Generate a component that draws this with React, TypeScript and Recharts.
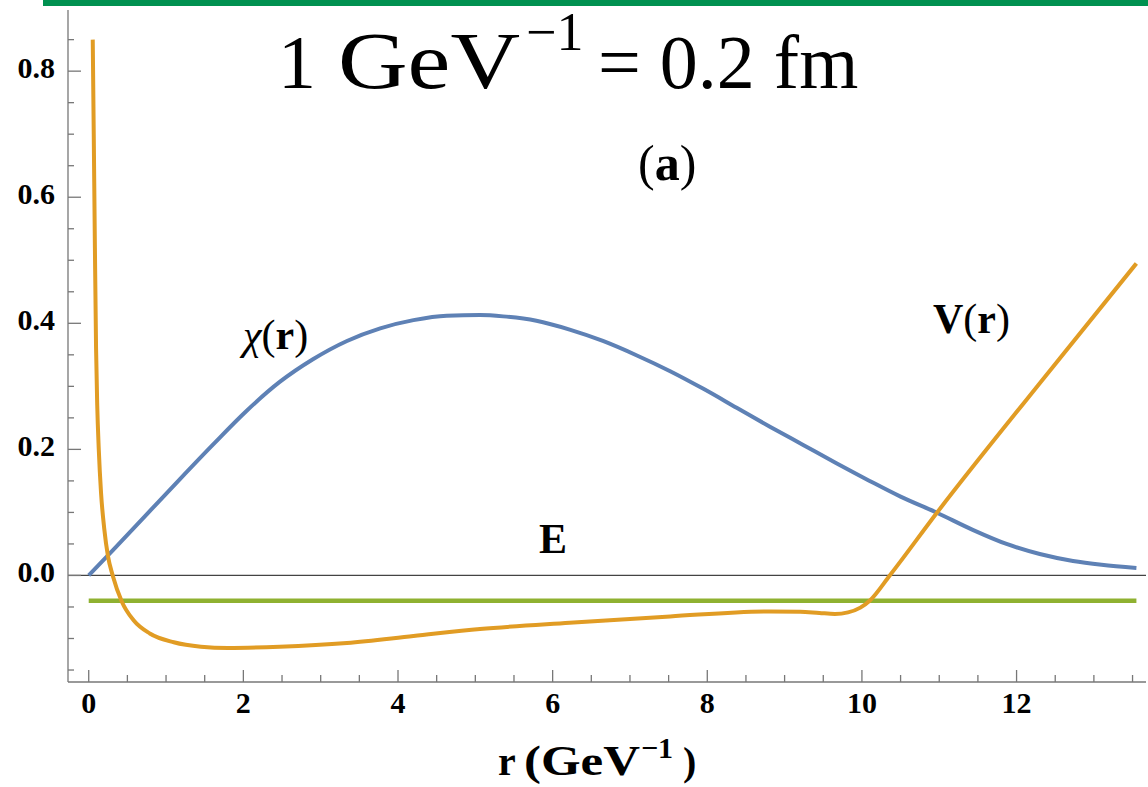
import { LineChart, Line, XAxis, YAxis, ReferenceLine } from "recharts";

// wave function chi(r)
const chiR = [0, 0.32, 0.75, 1.18, 1.61, 2.04, 2.47, 2.9, 3.34, 3.77, 4.2, 4.63, 5.06, 5.36, 5.79, 6.22, 6.65, 7.09, 7.52, 7.95, 8.38, 8.81, 9.24, 9.67, 10.1, 10.5, 10.97, 11.44, 11.87, 12.3, 12.73, 13.1, 13.55];
const chiValues = [0, 0.041, 0.097, 0.153, 0.208, 0.261, 0.307, 0.343, 0.372, 0.392, 0.405, 0.412, 0.413, 0.411, 0.404, 0.39, 0.372, 0.349, 0.324, 0.296, 0.266, 0.236, 0.207, 0.178, 0.15, 0.125, 0.0995, 0.072, 0.05, 0.034, 0.023, 0.017, 0.012];

// potential V(r)
const potR = [0.052, 0.065, 0.08, 0.095, 0.11, 0.13, 0.16, 0.2, 0.25, 0.31, 0.43, 0.58, 0.79, 1.1, 1.45, 1.8, 2.47, 3.34, 4.2, 5.06, 6.22, 7.52, 8.81, 9.2, 9.45, 9.65, 9.82, 9.98, 10.1, 10.36, 10.97, 12.3, 13.55];
const potValues = [0.85, 0.7, 0.52, 0.36, 0.27, 0.2, 0.13, 0.075, 0.03, 0, -0.042, -0.071, -0.092, -0.106, -0.113, -0.115, -0.113, -0.107, -0.096, -0.085, -0.075, -0.065, -0.057, -0.0575, -0.0595, -0.061, -0.0585, -0.051, -0.04, 0, 0.0995, 0.305, 0.495];

// energy level E
const energyR = [0, 13.55];
const energyValues = [-0.04, -0.04];

const xTicks = [0, 0.5, 1, 1.5, 2, 2.5, 3, 3.5, 4, 4.5, 5, 5.5, 6, 6.5, 7, 7.5, 8, 8.5, 9, 9.5, 10, 10.5, 11, 11.5, 12, 12.5, 13, 13.5];
const xMajor = [0, 2, 4, 6, 8, 10, 12];
const yTicks = [-0.15, -0.1, -0.05, 0, 0.05, 0.1, 0.15, 0.2, 0.25, 0.3, 0.35, 0.4, 0.45, 0.5, 0.55, 0.6, 0.65, 0.7, 0.75, 0.8, 0.85];
const yMajor = [0, 0.2, 0.4, 0.6, 0.8];

const chiData = chiR.map((r, i) => ({ r, v: chiValues[i] }));
const potData = potR.map((r, i) => ({ r, v: potValues[i] }));
const energyData = energyR.map((r, i) => ({ r, v: energyValues[i] }));

const SERIF = "'Liberation Serif', 'Times New Roman', serif";
const FRAME = "#777";

const isMajor = (v: number, list: number[]) => list.some((m) => Math.abs(m - v) < 1e-6);

function XTick({ x, y, payload, side }: any) {
  const major = isMajor(payload.value, xMajor);
  const len = major ? 12 : 7;
  const dir = side === "bottom" ? -1 : 1;
  return (
    <g>
      <line x1={x} x2={x} y1={y} y2={y + dir * len} stroke={FRAME} strokeWidth={1.3} />
      {side === "bottom" && major && (
        <text x={x} y={y + 31} textAnchor="middle" fontFamily={SERIF} fontWeight="bold" fontSize={30} fill="#000">
          {payload.value}
        </text>
      )}
    </g>
  );
}

function YTick({ x, y, payload, side }: any) {
  const major = isMajor(payload.value, yMajor);
  const len = major ? 13 : 6;
  const dir = side === "left" ? 1 : -1;
  return (
    <g>
      <line x1={x} x2={x + dir * len} y1={y} y2={y} stroke={FRAME} strokeWidth={1.3} />
      {side === "left" && major && (
        <text x={x - 13} y={y + 7} textAnchor="end" fontFamily={SERIF} fontWeight="bold" fontSize={30} fill="#000">
          {payload.value.toFixed(1)}
        </text>
      )}
    </g>
  );
}

export default function App() {
  return (
    <div style={{ position: "absolute", left: 0, top: 0, width: 1148, height: 787, background: "#fff" }}>
      <div style={{ position: "absolute", left: 43, top: 0, width: 1105, height: 6, background: "#009150" }} />
      <LineChart width={1148} height={787} margin={{ top: 10, right: 2, bottom: 0, left: 8 }}>
        <XAxis
          xAxisId="b"
          dataKey="r"
          type="number"
          domain={[-0.268, 13.674]}
          allowDataOverflow
          ticks={xTicks}
          interval={0}
          height={105}
          tickSize={0}
          tickMargin={0}
          tickLine={false}
          axisLine={{ stroke: FRAME, strokeWidth: 1.3 }}
          tick={(p: any) => <XTick {...p} side="bottom" />}
        />
        <XAxis
          xAxisId="t"
          orientation="top"
          dataKey="r"
          type="number"
          domain={[-0.268, 13.674]}
          allowDataOverflow
          ticks={xTicks}
          interval={0}
          height={0}
          tickSize={0}
          tickMargin={0}
          tickLine={false}
          axisLine={{ stroke: "#555", strokeWidth: 1.3 }}
          tick={(p: any) => <XTick {...p} side="top" />}
        />
        <YAxis
          yAxisId="l"
          type="number"
          domain={[-0.169, 0.897]}
          allowDataOverflow
          ticks={yTicks}
          interval={0}
          width={60}
          tickSize={0}
          tickMargin={0}
          tickLine={false}
          axisLine={{ stroke: FRAME, strokeWidth: 1.3 }}
          tick={(p: any) => <YTick {...p} side="left" />}
        />
        <YAxis
          yAxisId="r"
          orientation="right"
          type="number"
          domain={[-0.169, 0.897]}
          allowDataOverflow
          ticks={yTicks}
          interval={0}
          width={0}
          tickSize={0}
          tickMargin={0}
          tickLine={false}
          axisLine={{ stroke: FRAME, strokeWidth: 1.3 }}
          tick={(p: any) => <YTick {...p} side="right" />}
        />
        <ReferenceLine xAxisId="b" yAxisId="l" y={0} stroke="#444" strokeWidth={1.2} />
        <Line xAxisId="b" yAxisId="l" data={energyData} dataKey="v" type="linear" stroke="#8FB131" strokeWidth={4.5} dot={false} activeDot={false} isAnimationActive={false} />
        <Line xAxisId="b" yAxisId="l" data={chiData} dataKey="v" type="monotone" stroke="#5E81B5" strokeWidth={4} dot={false} activeDot={false} isAnimationActive={false} />
        <Line xAxisId="b" yAxisId="l" data={potData} dataKey="v" type="monotone" stroke="#E19C24" strokeWidth={4} dot={false} activeDot={false} isAnimationActive={false} />
      </LineChart>
      <svg width={1148} height={787} style={{ position: "absolute", left: 0, top: 0, pointerEvents: "none" }} fontFamily={SERIF}>
        {/* title: 1 GeV^-1 = 0.2 fm */}
        <text x={278} y={88} fontSize={76}>1</text>
        <text x={338} y={88} fontSize={80} textLength={182} lengthAdjust="spacingAndGlyphs">GeV</text>
        <text x={526} y={50} fontSize={54}>−1</text>
        <text x={598} y={88} fontSize={76}>= 0.2 fm</text>
        <text x={638} y={180} fontSize={50}>
          (<tspan fontWeight="bold">a</tspan>)
        </text>
        <text x={243} y={349} fontSize={42}>
          <tspan fontStyle="italic">χ</tspan>(<tspan fontWeight="bold">r</tspan>)
        </text>
        <text x={933} y={333} fontSize={42}>
          <tspan fontWeight="bold">V</tspan>(<tspan fontWeight="bold">r</tspan>)
        </text>
        <text x={539} y={553} fontSize={42} fontWeight="bold">E</text>
        {/* axis title: r (GeV^-1) */}
        <text x={498} y={775} fontSize={40} fontWeight="bold">r</text>
        <text x={524} y={775} fontSize={42} fontWeight="bold" textLength={116} lengthAdjust="spacingAndGlyphs">(GeV</text>
        <text x={641} y={758} fontSize={30} fontWeight="bold">−1</text>
        <text x={683} y={775} fontSize={40} fontWeight="bold">)</text>
      </svg>
    </div>
  );
}
